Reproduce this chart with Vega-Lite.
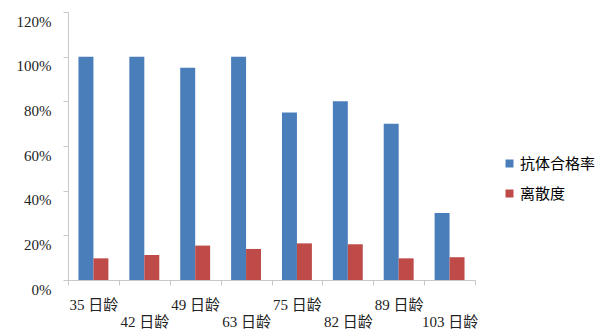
{
  "$schema": "https://vega.github.io/schema/vega-lite/v6.json",
  "width": 407,
  "height": 268,
  "autosize": "none",
  "padding": {"left": 68, "top": 12, "right": 125, "bottom": 50},
  "background": "white",
  "config": {
    "view": {"stroke": null},
    "font": "'Liberation Serif', 'Noto Sans CJK SC', serif",
    "axis": {"grid": false, "domainColor": "#c8c8c8", "tickColor": "#c8c8c8", "labelColor": "#222222", "labelFont": "'Liberation Serif', 'Noto Sans CJK SC', serif"}
  },
  "data": {
    "values": [
      {"age": "35 日龄", "series": "抗体合格率", "value": 100},
      {"age": "35 日龄", "series": "离散度", "value": 9.7},
      {"age": "42 日龄", "series": "抗体合格率", "value": 100},
      {"age": "42 日龄", "series": "离散度", "value": 11.2},
      {"age": "49 日龄", "series": "抗体合格率", "value": 95},
      {"age": "49 日龄", "series": "离散度", "value": 15.4},
      {"age": "63 日龄", "series": "抗体合格率", "value": 100},
      {"age": "63 日龄", "series": "离散度", "value": 13.9},
      {"age": "75 日龄", "series": "抗体合格率", "value": 75},
      {"age": "75 日龄", "series": "离散度", "value": 16.4},
      {"age": "82 日龄", "series": "抗体合格率", "value": 80},
      {"age": "82 日龄", "series": "离散度", "value": 16},
      {"age": "89 日龄", "series": "抗体合格率", "value": 70},
      {"age": "89 日龄", "series": "离散度", "value": 9.7},
      {"age": "103 日龄", "series": "抗体合格率", "value": 30},
      {"age": "103 日龄", "series": "离散度", "value": 10.2}
    ]
  },
  "mark": {"type": "bar"},
  "encoding": {
    "x": {
      "field": "age",
      "type": "nominal",
      "sort": null,
      "scale": {"paddingInner": 0, "paddingOuter": 0},
      "axis": {
        "title": null,
        "labelAngle": 0,
        "tickBand": "extent",
        "tickSize": 5,
        "labelPadding": 12,
        "labelFontSize": 15,
        "labelBaseline": "top",
        "labelLineHeight": 17,
        "labelExpr": "indexof(['42 日龄','63 日龄','82 日龄','103 日龄'], datum.value) >= 0 ? ['', datum.label] : datum.label"
      }
    },
    "xOffset": {
      "field": "series",
      "type": "nominal",
      "sort": ["抗体合格率", "离散度"],
      "scale": {"paddingInner": 0, "paddingOuter": 0.7}
    },
    "y": {
      "field": "value",
      "type": "quantitative",
      "scale": {"domain": [0, 120], "nice": false},
      "axis": {
        "title": null,
        "values": [0, 20, 40, 60, 80, 100, 120],
        "labelExpr": "datum.value + '%'",
        "tickSize": 5,
        "labelPadding": 12,
        "labelOffset": 9,
        "labelFontSize": 15
      }
    },
    "color": {
      "field": "series",
      "type": "nominal",
      "sort": ["抗体合格率", "离散度"],
      "scale": {"domain": ["抗体合格率", "离散度"], "range": ["#4a7ebb", "#be4b48"]},
      "legend": {
        "title": null,
        "orient": "none",
        "legendX": 434,
        "legendY": 144,
        "symbolType": "square",
        "symbolSize": 64,
        "symbolStrokeWidth": 0,
        "labelFontSize": 15,
        "labelFont": "'Noto Sans CJK SC'",
        "labelOffset": 3,
        "rowPadding": 14
      }
    }
  }
}
